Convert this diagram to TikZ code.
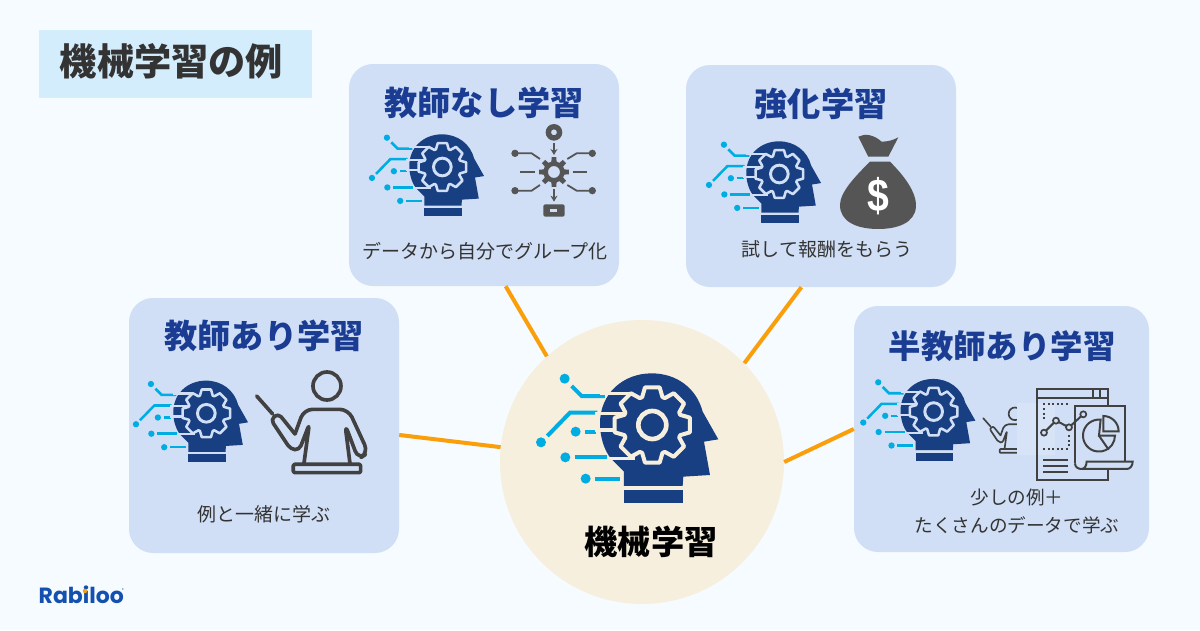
\documentclass[tikz,border=0pt]{standalone}
\usepackage{fontspec}
\setmainfont{Noto Sans CJK JP}
\newfontfamily\logofont{Poppins}
\newfontfamily\dollarfont{Liberation Sans}
\usetikzlibrary{arrows.meta}

\definecolor{pagebg}{HTML}{F5FBFF}
\definecolor{titlebg}{HTML}{D3EDFD}
\definecolor{panelbg}{HTML}{D0DFF5}
\definecolor{corebg}{HTML}{F7EFDD}
\definecolor{headblue}{HTML}{193F83}
\definecolor{labelblue}{HTML}{1A3D93}
\definecolor{wirecyan}{HTML}{00ADE3}
\definecolor{linkorange}{HTML}{FA9E0A}
\definecolor{icongrey}{HTML}{555555}
\definecolor{darkgrey}{HTML}{414141}
\definecolor{textgrey}{HTML}{333333}
\definecolor{logoblue}{HTML}{1450B0}

\tikzset{
  panel/.style={rectangle, fill=panelbg, rounded corners=24pt, inner sep=0pt},
  headlabel/.style={font=\bfseries\fontsize{33.2}{38}\selectfont, text=labelblue},
  sublabel/.style={font=\fontsize{19}{28}\selectfont, text=textgrey, align=center},
  link/.style={draw=linkorange, line width=4pt},
  pics/headicon/.style 2 args={code={
    \begin{scope}[scale=#2]
      % circuit wires
      \fill[wirecyan] (134,56) circle[radius=15] (63,247) circle[radius=15] (167,215) circle[radius=15]
        (136,292) circle[radius=15] (197,356) circle[radius=15];
      \draw[wirecyan, line width=#2*12pt] (155,78) -- (185,108) -- (255,108);
      \draw[wirecyan, line width=#2*12pt] (82,228) -- (150,158) -- (232,158);
      \draw[wirecyan, line width=#2*12pt] (195,215) -- (228,215);
      \draw[wirecyan, line width=#2*12pt] (164,292) -- (260,292);
      \draw[wirecyan, line width=#2*12pt] (225,356) -- (300,356);
      % head
      \fill[headblue] (312,378) -- (312,335) -- (275,298) .. controls (250,270) and (240,225) .. (240,190)
        .. controls (240,100) and (310,40) .. (395,40) .. controls (470,40) and (530,85) .. (548,155)
        -- (595,238) -- (552,245) -- (570,345) -- (490,350) -- (488,378) -- cycle;
      \fill[headblue] (312,390) rectangle (488,428);
      \draw[#1, line width=#2*10pt] (240,101) -- (335,101);
      \draw[#1, line width=#2*10pt] (225,160) -- (325,160);
      \draw[#1, line width=#2*10pt] (225,210) -- (295,210);
      \draw[#1, line width=#2*10pt] (262,295) -- (345,295);
      % gear
      \begin{scope}[shift={(397,195)}]
        \draw[fill=headblue, draw=#1, line width=#2*12pt, line join=round]
          (-20:89) \foreach \a in {0,45,...,315} { -- ({\a-20}:89) -- ({\a-11}:115) -- ({\a+11}:115) -- ({\a+20}:89) } -- cycle;
        \draw[fill=headblue, draw=#1, line width=#2*14pt] (0,0) circle[radius=42];
      \end{scope}
    \end{scope}
  }},
  pics/teacher/.style={code={
    \begin{scope}[scale=#1, draw=darkgrey, line width=#1*11pt, line cap=round, line join=round]
      \draw (591,78) circle[radius=42];
      \draw (380,108) -- (428,162);
      \draw[rounded corners=#1*14pt] (495,222) -- (445,160) -- (422,178) -- (482,268) -- (508,270) -- (538,192) -- (522,310);
      \draw[rounded corners=#1*26pt] (495,222) -- (522,148) -- (655,148) -- (715,278) -- (685,298) -- (645,192) -- (660,310);
      \draw[rounded corners=#1*4pt] (490,313) rectangle (692,338);
    \end{scope}
  }},
}

\begin{document}
\begin{tikzpicture}[x=1pt, y=-1pt]
\useasboundingbox (0,0) rectangle (1200,630);
\fill[pagebg] (0,0) rectangle (1200,630);

\node[rectangle, fill=titlebg, minimum width=273pt, minimum height=68pt, inner sep=0pt] (titlebox) at (175.5,64) {};
\node[font=\bfseries\fontsize{37.2}{44}\selectfont, text=textgrey] (titletext) at (171.5,61) {機械学習の例};

% the four panels
\node[panel, minimum width=270pt, minimum height=222pt] (unsup) at (484,175) {};
\node[panel, minimum width=270pt, minimum height=222pt] (rl) at (821,176) {};
\node[panel, minimum width=270pt, minimum height=255pt] (sup) at (264,425.5) {};
\node[panel, minimum width=295pt, minimum height=246pt] (semi) at (1001.5,429) {};
\node[circle, fill=corebg, minimum size=284pt, inner sep=0pt] (core) at (642,462) {};

\draw[link] (unsup.-79.4) -- (core.132);
\draw[link] (rl.-100.5) -- (core.44.7);
\draw[link] (sup.-4.4) -- (core.174.8);
\draw[link] (semi.180) -- (core.0);

\node[headlabel] (unsuphead) at (484,103) {教師なし学習};
\node[headlabel] (rlhead) at (821,104) {強化学習};
\node[headlabel] (suphead) at (264,336) {教師あり学習};
\node[headlabel, font=\bfseries\fontsize{32.4}{38}\selectfont] (semihead) at (1002,346) {半教師あり学習};
\node[font=\bfseries\fontsize{33.2}{38}\selectfont, text=black] (corehead) at (651,542) {機械学習};

\node[sublabel] (unsubtext) at (485,251) {データから自分でグループ化};
\node[sublabel] (rlsubtext) at (827,249) {試して報酬をもらう};
\node[sublabel] (supsubtext) at (264,514) {例と一緒に学ぶ};
\node[sublabel, font=\fontsize{18.6}{28}\selectfont] (semisubtext) at (1017,511) {少しの例＋\\たくさんのデータで学ぶ};

% head icons
\pic at (520,360) {headicon={corebg}{0.3333}};
\pic at (358.7,125.9) {headicon={panelbg}{0.2107}};
\pic at (695.7,132.9) {headicon={panelbg}{0.2107}};
\pic at (122.7,372.2) {headicon={panelbg}{0.2107}};
\pic at (850,370.5) {headicon={panelbg}{0.2107}};

% network gear
\begin{scope}[shift={(350,115)}, scale=0.3333, icongrey]
  \fill[even odd rule] (612,52) circle[radius=25] (612,52) circle[radius=9];
  \draw[line width=1.8pt, -{Stealth[length=6pt,width=7pt]}] (612,85) -- (612,120);
  \draw[line width=1.8pt, -{Stealth[length=6pt,width=7pt]}] (612,222) -- (612,260);
  \fill (495,115) circle[radius=11] (727,115) circle[radius=11] (495,227) circle[radius=11] (727,227) circle[radius=11];
  \draw[line width=1.8pt] (495,115) -- (545,115) -- (570,132);
  \draw[line width=1.8pt] (495,227) -- (545,227) -- (570,210);
  \draw[line width=1.8pt] (727,115) -- (680,115) -- (652,132);
  \draw[line width=1.8pt] (727,227) -- (680,227) -- (652,210);
  \draw[line width=1.8pt] (510,171) -- (555,171);
  \draw[line width=1.8pt] (668,171) -- (712,171);
  \begin{scope}[shift={(612,171)}]
    \fill[even odd rule] (-14:32) \foreach \a in {0,45,...,315} { -- ({\a-14}:32) -- ({\a-9}:45) -- ({\a+9}:45) -- ({\a+14}:32) } -- cycle (0,0) circle[radius=18];
  \end{scope}
  \fill[rounded corners=2pt] (580,268) rectangle (644,305);
  \fill[panelbg] (600,282) rectangle (622,290);
\end{scope}

% money bag
\begin{scope}[shift={(700,125)}, scale=0.3333]
  \fill[icongrey] (475,35) .. controls (495,25) and (520,28) .. (545,50) .. controls (565,50) and (580,45) .. (595,37)
    -- (565,95) -- (505,95) -- cycle;
  \fill[icongrey] (510,110) -- (570,110) .. controls (610,150) and (650,200) .. (648,245)
    .. controls (645,295) and (590,312) .. (535,312) .. controls (470,312) and (420,290) .. (420,240)
    .. controls (420,200) and (470,150) .. (510,110) -- cycle;
\end{scope}
\node[font=\dollarfont\bfseries\fontsize{46}{46}\selectfont, text=white, inner sep=0pt] (dollar) at (878,196) {\scalebox{0.85}[1]{\$}};

% teacher
\pic at (130,360) {teacher=0.3333};
\pic at (926.3,402.1) {teacher=0.15};
\fill[panelbg!85!white] (1016.7,403) rectangle (1055,455);

% report with charts
\begin{scope}[shift={(860,370)}, scale=0.3333, darkgrey, line width=2pt]
  \draw (745,105) -- (745,58) -- (530,58) -- (530,330) -- (745,330) -- (745,300);
  \draw (530,83) -- (745,83);
  \draw (700,58) -- (700,83);
  \draw (720,58) -- (720,83);
  \draw[dash pattern=on 2pt off 2.5pt] (550,102) -- (630,102);
  \draw[dash pattern=on 2pt off 2.5pt] (552,115) -- (552,148);
  \draw[dash pattern=on 2pt off 2.5pt] (627,195) -- (627,228);
  \draw[dash pattern=on 2pt off 2.5pt] (550,237) -- (630,237);
  \draw (550,270) -- (625,270);
  \draw (550,287) -- (625,287);
  \draw (550,305) -- (625,305);
  \draw (645,280) -- (645,108) -- (795,108) -- (795,275);
  \draw (645,280) .. controls (645,292) and (655,297) .. (665,297) -- (800,297) .. controls (810,297) and (818,288) .. (818,275) -- (680,275) .. controls (680,288) and (672,297) .. (665,297);
  \draw (552,188) -- (588,152) -- (627,172) -- (670,133);
  \foreach \cx/\cy in {552/188,588/152,627/172,670/133}
    \draw[fill=panelbg, line width=1.7pt] (\cx,\cy) circle[radius=9];
  \draw (722,149) arc[start angle=-84, end angle=-360, radius=48] -- (717,197) -- cycle;
  \draw (717,197) -- (746,239);
  \draw (730,138) arc[start angle=-90, end angle=0, radius=46] -- (730,184) -- cycle;
\end{scope}

% logo
\node[font=\logofont\bfseries\fontsize{22}{26}\selectfont, text=logoblue, inner sep=0pt, anchor=west] (logo) at (38.5,595) {Rabiloo};
\fill[linkorange] (85,591) circle[radius=2.2];
\node[font=\logofont\fontsize{4}{4}\selectfont, text=logoblue, inner sep=0pt] (logomark) at (122.8,590) {®};
\end{tikzpicture}
\end{document}
